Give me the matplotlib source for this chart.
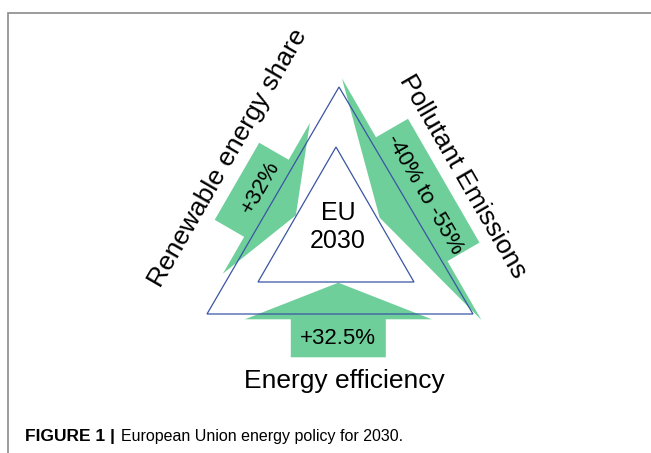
import numpy as np
import matplotlib
matplotlib.use('Agg')
import matplotlib.pyplot as plt
from matplotlib.patches import Polygon

plt.rcParams['font.family'] = ['Liberation Sans', 'DejaVu Sans']

# labels of the diagram
center_text = 'EU\n2030'
side_labels = ['Renewable energy share', 'Pollutant Emissions', 'Energy efficiency']
target_labels = ['+32%', '-40% to -55%', '+32.5%']
caption_bold = 'FIGURE 1 |'
caption_text = 'European Union energy policy for 2030.'

green = '#6fcf9a'
blue = '#3a55a4'

fig = plt.figure(figsize=(6.51, 4.53), dpi=100)
ax = fig.add_axes([0, 0, 1, 1])
ax.set_xlim(0, 651)
ax.set_ylim(453, 0)
ax.axis('off')


def block_arrow(c, ang, hw, hl, sw, sl):
    # ang = direction the arrow points to (screen coords, y down)
    c = np.array(c)
    d = np.array([np.cos(np.radians(ang)), np.sin(np.radians(ang))])
    p = np.array([-d[1], d[0]])
    pts = [c + d * hl, c + p * hw / 2, c + p * sw / 2, c + p * sw / 2 - d * sl,
           c - p * sw / 2 - d * sl, c - p * sw / 2, c - p * hw / 2]
    return Polygon(pts, closed=True, fc=green, ec='none', zorder=1)


# arrows: left, right, bottom (pointing inward)
ax.add_patch(block_arrow((266.4, 198.3), 30, 174, 34, 89, 34))
ax.add_patch(block_arrow((411.7, 199.2), 150, 279, 37, 143, 37))
ax.add_patch(block_arrow((338.3, 319.3), -90, 187, 36.6, 95, 38))

# triangles
outer = Polygon([(207, 314), (473, 314), (339, 87)], closed=True, fill=False, ec=blue, lw=0.9, zorder=2)
inner = Polygon([(258, 282), (414, 282), (336, 147)], closed=True, fill=False, ec=blue, lw=0.9, zorder=2)
ax.add_patch(outer)
ax.add_patch(inner)

ax.text(338, 227, center_text, ha='center', va='center', fontsize=18, zorder=3)

ax.text(228, 158, side_labels[0], rotation=60, ha='center', va='center', fontsize=19, rotation_mode='anchor')
ax.text(462.5, 176, side_labels[1], rotation=-60, ha='center', va='center', fontsize=19, rotation_mode='anchor')
ax.text(344.5, 381, side_labels[2], ha='center', va='center', fontsize=19)

ax.text(260.8, 187.5, target_labels[0], rotation=60, ha='center', va='center', fontsize=16, rotation_mode='anchor', zorder=3)
ax.text(424, 194, target_labels[1], rotation=-60, ha='center', va='center', fontsize=16, rotation_mode='anchor', zorder=3)
ax.text(338.3, 338.5, target_labels[2], ha='center', va='center', fontsize=16, zorder=3)

# frame lines
ax.plot([8, 8, 651], [453, 13, 13], color='#8a8a8a', lw=1.2, solid_joinstyle='miter')

# caption (bold part, then plain part right after it)
cap = ax.text(25, 441.5, caption_bold, ha='left', va='baseline', fontsize=12.5, fontweight='bold',
              family=['Liberation Sans Narrow', 'Liberation Sans'])
fig.canvas.draw()
bb = cap.get_window_extent()
x1 = ax.transData.inverted().transform((bb.x1, 0))[0]
ax.text(x1 + 6, 441.5, caption_text, ha='left', va='baseline', fontsize=11.5,
        family=['Liberation Sans Narrow', 'Liberation Sans'])

plt.savefig('out.png', dpi=100)
